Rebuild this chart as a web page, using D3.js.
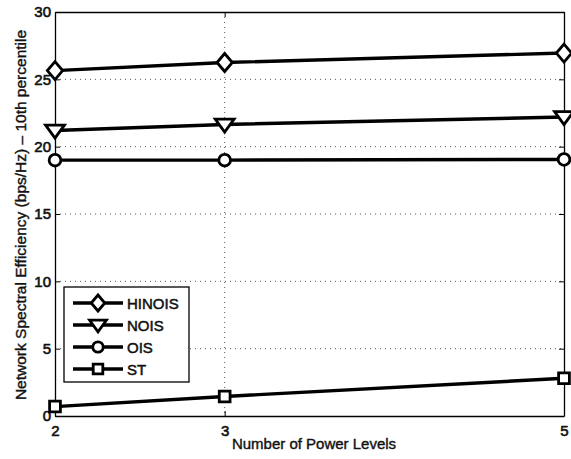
<!DOCTYPE html>
<html><head><meta charset="utf-8">
<script src="https://cdn.jsdelivr.net/npm/d3@7"></script>
<style>body{margin:0;background:#fff}svg{display:block}text{font-family:"Liberation Sans",Arial,sans-serif;fill:#111}</style>
</head><body><svg id="c" width="571" height="459"></svg>
<script>
const xValues = [2, 3, 5];
const seriesNames = ["HINOIS", "NOIS", "OIS", "ST"];
const hinois = [25.65, 26.25, 26.95];
const nois = [21.2, 21.65, 22.2];
const ois = [19.0, 19.0, 19.05];
const st = [0.7, 1.45, 2.8];
const xTicks = [2, 3, 5];
const yTicks = [0, 5, 10, 15, 20, 25, 30];
const markers = ["diamond", "triangle", "circle", "square"];
const series = [hinois, nois, ois, st];

const svg = d3.select("#c");
const L = 55, R = 564, T = 12, B = 416;
const x = d3.scaleLinear().domain([2, 5]).range([L, R]);
const y = d3.scaleLinear().domain([0, 30]).range([B, T]);

// grid
const g = svg.append("g");
g.selectAll(".gy").data(yTicks.filter(v => v > 0 && v < 30)).join("line")
  .attr("x1", L).attr("x2", R).attr("y1", d => y(d)).attr("y2", d => y(d))
  .attr("stroke", "#555").attr("stroke-width", 1).attr("stroke-dasharray", "1,4");
g.selectAll(".gx").data(xTicks.filter(v => v > 2 && v < 5)).join("line")
  .attr("y1", T).attr("y2", B).attr("x1", d => x(d)).attr("x2", d => x(d))
  .attr("stroke", "#555").attr("stroke-width", 1).attr("stroke-dasharray", "1,4");

// axes
const ax = svg.append("g").attr("transform", `translate(0,${B})`)
  .call(d3.axisBottom(x).tickValues(xTicks).tickFormat(d3.format("d")).tickSizeInner(-5).tickSizeOuter(0).tickPadding(9.5));
const ay = svg.append("g").attr("transform", `translate(${L},0)`)
  .call(d3.axisLeft(y).tickValues(yTicks).tickSizeInner(-5).tickSizeOuter(0).tickPadding(4));
const axTop = svg.append("g").attr("transform", `translate(0,${T})`)
  .call(d3.axisTop(x).tickValues(xTicks).tickFormat("").tickSizeInner(-5).tickSizeOuter(0));
const ayR = svg.append("g").attr("transform", `translate(${R},0)`)
  .call(d3.axisRight(y).tickValues(yTicks).tickFormat("").tickSizeInner(-5).tickSizeOuter(0));
[ax, ay, axTop, ayR].forEach(a => {
  a.select(".domain").attr("stroke", "#000").attr("stroke-width", 1.3);
  a.selectAll(".tick line").attr("stroke", "#000");
  a.selectAll("text").attr("font-size", 15).attr("fill", "#111").attr("font-family", '"Liberation Sans",Arial,sans-serif')
    .attr("stroke", "#111").attr("stroke-width", 0.6);
});

// marker paths
function markerPath(type, s) {
  if (type === "diamond") return `M0,${-s}L${s*0.85},0L0,${s}L${-s*0.85},0Z`;
  if (type === "triangle") return `M${-s*1.05},${-s*0.6}L${s*1.05},${-s*0.6}L0,${s*0.85}Z`;
  if (type === "square") return `M${-s*0.6},${-s*0.6}h${s*1.2}v${s*1.2}h${-s*1.2}Z`;
  return null;
}
function drawMarker(sel, type, cx, cy, s) {
  if (type === "circle") {
    sel.append("circle").attr("cx", cx).attr("cy", cy).attr("r", s * 0.65)
      .attr("fill", "#fff").attr("stroke", "#000").attr("stroke-width", 2.8);
  } else {
    sel.append("path").attr("transform", `translate(${cx},${cy})`).attr("d", markerPath(type, s))
      .attr("fill", "#fff").attr("stroke", "#000").attr("stroke-width", 2.8);
  }
}

const line = d3.line().x((d, i) => x(xValues[i])).y(d => y(d));
series.forEach((s, k) => {
  svg.append("path").attr("d", line(s)).attr("fill", "none").attr("stroke", "#000").attr("stroke-width", 3.4);
});
series.forEach((s, k) => {
  s.forEach((v, i) => drawMarker(svg, markers[k], x(xValues[i]), y(v), 9));
});

// legend
const lg = svg.append("g");
lg.append("rect").attr("x", 64).attr("y", 287).attr("width", 125).attr("height", 95)
  .attr("fill", "#fff").attr("stroke", "#000").attr("stroke-width", 1.3);
const ly = [303, 325, 347, 369];
seriesNames.forEach((n, k) => {
  lg.append("line").attr("x1", 73).attr("x2", 123).attr("y1", ly[k]).attr("y2", ly[k])
    .attr("stroke", "#000").attr("stroke-width", 3.4);
  drawMarker(lg, markers[k], 98, ly[k], 8);
  lg.append("text").attr("x", 127).attr("y", ly[k] + 5.5).attr("font-size", 15).text(n)
    .attr("stroke", "#111").attr("stroke-width", 0.5);
});

// axis labels
svg.append("text").attr("x", 314).attr("y", 448.5).attr("text-anchor", "middle").attr("font-size", 15)
  .attr("stroke", "#111").attr("stroke-width", 0.4).text("Number of Power Levels");
svg.append("text").attr("transform", `translate(26,215) rotate(-90)`).attr("text-anchor", "middle")
  .attr("font-size", 15.5).attr("stroke", "#111").attr("stroke-width", 0.4)
  .text("Network Spectral Efficiency (bps/Hz) \u2013 10th percentile");
</script></body></html>
